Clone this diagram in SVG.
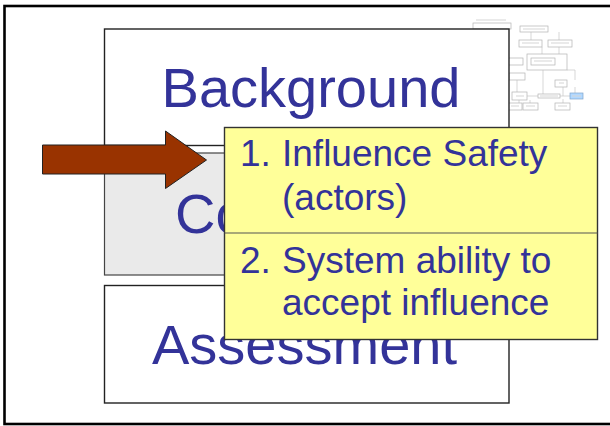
<svg xmlns="http://www.w3.org/2000/svg" width="610" height="426" viewBox="0 0 610 426">
  <defs>
    <style>
      .big { font-family: "Liberation Sans", Arial, sans-serif; font-size: 56px; fill: #333399; }
      .item { font-family: "Liberation Sans", Arial, sans-serif; font-size: 37px; fill: #333399; }
      .box { fill: #FFFFFF; stroke: #222222; stroke-width: 1.4; }
      .tb { fill: #FFFFFF; stroke: #9a9a9a; stroke-width: 0.7; }
      .tl { stroke: #aaaaaa; stroke-width: 0.6; fill: none; }
      .tt { stroke: #c8c8c8; stroke-width: 1; }
    </style>
  </defs>
  <rect x="0" y="0" width="610" height="426" fill="#FFFFFF"/>
  <!-- slide frame -->
  <rect x="4.5" y="6" width="620" height="418" fill="none" stroke="#000000" stroke-width="2.6"/>

  <!-- thumbnail (faint flowchart) -->
  <g id="thumbnail" opacity="0.75">
    <g class="tl">
      <path d="M531 32 V40 M559 32 V40 M542 47 V54 M559 47 V54 M543 66 V94 M517 80 V92 M563 87 V96 M575 70 V80 M575 87 V93 M527 96 H538 M560 96 H570 M530 100 V103 M563 99 V103 M519 100 V103 M567 70 H575"/>
    </g>
    <rect class="tb" x="527" y="54" width="40" height="16"/>
    <rect class="tb" x="473" y="23" width="38" height="6"/>
    <rect class="tb" x="520" y="26" width="28" height="6"/>
    <rect class="tb" x="519" y="40" width="23" height="7"/>
    <rect class="tb" x="548" y="40" width="24" height="7"/>
    <rect class="tb" x="507" y="58" width="16" height="7"/>
    <rect class="tb" x="531" y="58" width="24" height="7"/>
    <rect class="tb" x="509" y="73" width="16" height="7"/>
    <rect class="tb" x="555" y="80" width="12" height="7"/>
    <rect class="tb" x="512" y="92" width="15" height="8"/>
    <rect class="tb" x="538" y="94" width="22" height="4"/>
    <rect x="570" y="93" width="13" height="6" fill="#99CCFF" stroke="#5588bb" stroke-width="0.7"/>
    <rect class="tb" x="508" y="103" width="14" height="7"/>
    <rect class="tb" x="523" y="103" width="15" height="7"/>
    <rect class="tb" x="555" y="103" width="15" height="7"/>
    <g class="tt">
      <path d="M523 29 H545 M551 43 H569 M522 43 H539 M534 61 H552 M559 83 H564 M516 96 H524 M526 106 H535 M558 106 H567 M511 106 H519 M572 96 H581 M540 96 H558 M476 20 H506"/>
    </g>
  </g>

  <!-- Background node -->
  <g id="background">
    <rect class="box" x="104.5" y="29" width="404.5" height="116.5"/>
    <text class="big" x="311" y="107" text-anchor="middle">Background</text>
  </g>

  <!-- Context node (partly hidden) -->
  <g id="context">
    <rect x="104.5" y="153" width="404.5" height="122" fill="#EAEAEA" stroke="#444444" stroke-width="1.2"/>
    <text class="big" x="175" y="233">Co</text>
  </g>

  <!-- Assessment node -->
  <g id="assessment">
    <rect class="box" x="104.5" y="285.5" width="404.5" height="117.5"/>
    <text class="big" x="304.5" y="364" text-anchor="middle">Assessment</text>
  </g>

  <!-- connector: block arrow -->
  <g id="connectors">
    <polygon points="42.5,145 165.5,145 165.5,131 206.5,160 165.5,188.5 165.5,174 42.5,174" fill="#993300" stroke="#222222" stroke-width="1"/>
  </g>

  <!-- Callout node -->
  <g id="callout">
    <rect x="224.5" y="127.5" width="373" height="212" fill="#FFFF99" stroke="#333333" stroke-width="1.4"/>
    <line x1="224.5" y1="233" x2="597.5" y2="233" stroke="#555555" stroke-width="1.2"/>
    <text class="item" x="240" y="166">1.</text>
    <text class="item" x="282" y="166">Influence Safety</text>
    <text class="item" x="282" y="210">(actors)</text>
    <text class="item" x="240" y="273">2.</text>
    <text class="item" x="282" y="273">System ability to</text>
    <text class="item" x="282" y="315">accept influence</text>
  </g>
</svg>
